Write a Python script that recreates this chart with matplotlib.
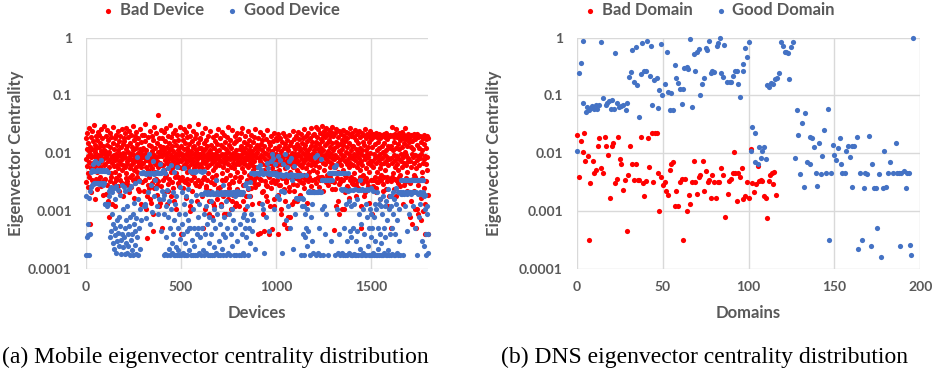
import numpy as np
import matplotlib
matplotlib.use("Agg")
import matplotlib.pyplot as plt
from matplotlib.ticker import FuncFormatter, NullLocator

plt.rcParams['font.family'] = ['Lato', 'DejaVu Sans']
plt.rcParams['font.weight'] = 'bold'

RED = '#FF0000'
BLUE = '#4472C4'
GRAY = '#595959'
GRID = '#D9D9D9'

# ---- (a) mobile devices: values read per 100-device block, in x order ----
bad_000 = [.018, .008, .012, .006, .022, .009, .015, .0045, .011, .027, .007, .0095, .0006, .013, .0055, .019, .0085, .024, .0065, .012, .005, .016, .009, .031, .007, .014, .0105, .006, .02, .0082, .0125, .0048, .017, .0075, .023, .0092, .0035, .013, .0068, .021, .0088, .015, .0058, .011, .026, .0072, .0098, .018, .0052, .0135, .0078, .029, .0062, .0115, .0095]
bad_100 = [.011, .0065, .02, .002, .0085, .014, .0052, .025, .0095, .0072, .017, .0008, .0105, .0058, .022, .0078, .013, .0045, .019, .009, .0068, .0013, .015, .0082, .028, .006, .012, .0092, .0048, .018, .0075, .0035, .021, .0098, .0062, .014, .0085, .024, .0055, .0112, .0072, .0165, .0042, .0095, .02, .0066, .0128, .0088, .0052, .026, .0078, .0145, .0062, .0102, .0185]
bad_200 = [.0095, .016, .0058, .022, .0085, .012, .0045, .027, .0072, .0135, .0065, .019, .0028, .0105, .0078, .024, .0055, .015, .0088, .0062, .021, .0098, .0042, .013, .0075, .029, .0068, .0115, .0052, .017, .0092, .0036, .02, .0082, .0125, .0058, .023, .0072, .0145, .0048, .0102, .0185, .0065, .0088, .0022, .012, .0078, .026, .0058, .0098, .0155, .0068, .0112, .021, .0085]
bad_300 = [.0125, .0068, .021, .0085, .0045, .016, .0095, .032, .0058, .0115, .0075, .0018, .00034, .019, .0088, .0052, .014, .0025, .0072, .024, .0098, .0062, .0135, .0014, .0082, .02, .0055, .0108, .00045, .017, .0078, .0035, .028, .0092, .0065, .0122, .0048, .022, .0085, .0028, .015, .0072, .045, .0105, .0058, .018, .0088, .0012, .0068, .0132, .0095, .025, .0062, .0115, .0005]
bad_400 = [.0088, .018, .0062, .013, .0095, .023, .0052, .0115, .0075, .016, .0042, .0098, .027, .0068, .0128, .0085, .02, .0022, .0105, .0058, .015, .0078, .031, .0065, .0118, .0092, .0048, .019, .0082, .0135, .0055, .022, .0072, .0108, .0015, .0165, .0088, .0062, .025, .0098, .0045, .014, .0078, .0205, .0068, .0112, .0038, .017, .0092, .0058, .0125, .028, .0075, .0102, .0004]
bad_500 = [.0135, .0072, .021, .0095, .0055, .017, .0085, .026, .0062, .0118, .0078, .0032, .015, .0098, .023, .0068, .0125, .0048, .019, .0088, .011, .0058, .029, .0075, .0142, .001, .0092, .02, .0065, .0108, .0082, .016, .0045, .0128, .0072, .024, .0098, .0055, .0135, .0085, .018, .0062, .0115, .0028, .0215, .0078, .0102, .0068, .015, .0092, .032, .0058, .0122, .0085, .0175]
bad_600 = [.0098, .018, .0065, .0125, .0082, .022, .0055, .0005, .0108, .0072, .015, .0038, .0092, .027, .0068, .0118, .0025, .017, .0085, .0058, .0135, .0075, .02, .0045, .0102, .0015, .0088, .0062, .024, .0112, .0078, .0032, .014, .0095, .0008, .0068, .019, .0085, .0052, .0122, .0072, .0012, .0165, .0098, .0058, .021, .0082, .0042, .0108, .0065, .0145, .0022, .0088, .026, .0075]
bad_700 = [.0115, .0062, .0185, .0088, .0012, .0072, .014, .0045, .023, .0098, .0058, .0128, .0018, .0082, .021, .0068, .0035, .0155, .0095, .0009, .0075, .0118, .0052, .019, .0085, .028, .0065, .0105, .0025, .0138, .0078, .0042, .017, .0092, .0058, .0122, .0015, .0088, .025, .0068, .0102, .0032, .0148, .0078, .0055, .02, .0095, .0012, .0112, .0065, .0165, .0085, .0048, .0222, .0072]
bad_800 = [.0092, .0012, .0175, .0065, .0118, .0085, .0038, .022, .0072, .0135, .0055, .0095, .027, .0068, .0108, .0028, .0158, .0082, .0048, .0125, .0075, .0195, .0062, .0102, .0018, .0145, .0088, .0058, .024, .0078, .0115, .0042, .0168, .0095, .0068, .0132, .0025, .0085, .021, .0062, .0108, .0078, .0052, .0155, .0092, .0035, .0188, .0072, .0122, .0058, .026, .0085, .0098, .0045, .0138]
bad_900 = [.0105, .0058, .0185, .0004, .0082, .0125, .0045, .023, .0072, .00042, .0142, .0092, .0035, .0168, .0065, .0115, .0022, .0205, .0085, .0052, .00045, .0132, .0078, .0102, .0028, .0175, .0062, .0095, .0015, .025, .0072, .0118, .0042, .0155, .0088, .0004, .0068, .0138, .0098, .0032, .0195, .0078, .0055, .0108, .00048, .0162, .0085, .0065, .022, .0012, .0092, .0125, .0048, .0182, .0075]
bad_1000 = [.0095, .0168, .0062, .0118, .0004, .0085, .0215, .0052, .0132, .0075, .0028, .0185, .0092, .0065, .0108, .0009, .0155, .0078, .0042, .0228, .0068, .0122, .0006, .0088, .0142, .0055, .0195, .0035, .0098, .0072, .0125, .0005, .0172, .0085, .0062, .0112, .0022, .0205, .0078, .0048, .0138, .0008, .0092, .0158, .0068, .0102, .0038, .0242, .0082, .0058, .0128, .0015, .0178, .0072, .0095]
bad_1100 = [.0118, .0068, .0195, .0085, .0052, .0142, .0015, .0098, .0235, .0072, .0128, .0045, .0175, .0088, .0062, .0112, .0032, .0215, .0078, .0148, .0058, .0102, .0185, .0068, .0125, .0042, .0262, .0092, .0075, .0138, .0055, .0198, .0082, .0108, .0038, .0165, .0095, .0065, .0225, .0078, .0118, .0048, .0182, .0088, .0135, .0062, .0278, .0098, .0072, .0155, .0052, .0205, .0085, .0112, .0068]
bad_1200 = [.0215, .0088, .0135, .0062, .0285, .0098, .0155, .0072, .0192, .0048, .0118, .0265, .0082, .0142, .0058, .0225, .0105, .0075, .0178, .0038, .0125, .0295, .0092, .0162, .0068, .0205, .0112, .0052, .0245, .0085, .0138, .0065, .0188, .0098, .0275, .0078, .0148, .0042, .0218, .0108, .0072, .0168, .0255, .0088, .0128, .0058, .0198, .0095, .0235, .0068, .0152, .0082, .0282, .0112, .0062]
bad_1300 = [.0195, .0078, .0125, .00047, .0228, .0092, .0058, .0158, .0012, .0265, .0085, .0135, .0048, .0188, .0068, .0108, .0245, .0009, .0075, .0145, .0032, .0215, .0098, .0062, .0172, .0082, .0118, .0255, .0052, .0138, .0011, .0202, .0088, .0072, .0162, .0042, .0235, .0105, .0065, .0128, .0185, .0078, .0025, .0222, .0095, .0058, .0152, .0085, .0272, .0068, .0112, .0038, .0195, .0082, .0132]
bad_1400 = [.0225, .0085, .0135, .0062, .0192, .0098, .0045, .0255, .0075, .0118, .0028, .0172, .0088, .0058, .0212, .0105, .0068, .0148, .0035, .0245, .0082, .0125, .0052, .0188, .0095, .0072, .0005, .0228, .0112, .0062, .0158, .0042, .0205, .0088, .0138, .0018, .0262, .0078, .0115, .0055, .0182, .0098, .0032, .0218, .0068, .0128, .0085, .0198, .0048, .0155, .0072, .0238, .0102, .0062, .0175]
bad_1500 = [.0205, .0072, .0009, .0128, .0188, .0058, .0215, .0095, .0035, .0198, .0082, .0142, .0025, .0225, .0068, .0112, .0048, .0192, .0088, .0158, .0032, .0212, .0075, .0122, .0055, .0185, .0098, .0065, .0205, .0042, .0135, .0082, .0195, .0022, .0105, .0218, .0068, .0148, .0052, .0188, .0092, .0072, .0228, .0115, .0038, .0175, .0085, .0202, .0062, .0132, .0018, .0195, .0078, .0125, .0208]
bad_1600 = [.0198, .0082, .0005, .0135, .0282, .0068, .0205, .0112, .0045, .0188, .0092, .0158, .0058, .0215, .0075, .0125, .0035, .0262, .0088, .0192, .0065, .0142, .0208, .0052, .0118, .0225, .0078, .0168, .0042, .0198, .0098, .0072, .0235, .0128, .0058, .0185, .0085, .0212, .0028, .0148, .0068, .0195, .0105, .0275, .0062, .0178, .0092, .0202, .0048, .0135, .0082, .0218, .0072, .0155, .0192]
bad_1700 = [.0185, .0072, .0008, .0128, .0205, .0058, .0165, .0095, .0006, .0198, .0085, .0118, .0042, .0212, .0068, .0011, .0178, .0092, .0055, .0195, .0005, .0138, .0075, .0218, .0088, .0009, .0188, .0062, .0125, .0035, .0202, .0082, .0007, .0158, .0098, .0192, .0048, .0112, .0185, .0068, .001, .0205, .0078, .0145, .0004, .0192, .0088, .0065, .0178, .0122, .0052, .0198, .0085, .0004, .0182]

# lower fringe of the bad-device band (0.001-0.004), same 100-device blocks
bad_low_000 = [.0032, .0026, .0038, .0021, .0035, .0029, .0016, .0036, .0024, .0033, .0039, .0027, .0019, .0034]
bad_low_100 = [.0036, .0028, .0015, .0033, .0039, .0024, .0031, .0012, .0037, .0027, .0022, .0035, .003, .0018]
bad_low_200 = [.0029, .0037, .0033, .0021, .0038, .0026, .0034, .0017, .0031, .0039, .0024, .0035, .0013, .0032]
bad_low_300 = [.0022, .0035, .0011, .0028, .0038, .0016, .0031, .0009, .0025, .0036, .0019, .0033, .0014, .0027]
bad_low_400 = [.0034, .0021, .0038, .0013, .0029, .0036, .0018, .0032, .0025, .0039, .0011, .0031, .0027, .0035]
bad_low_500 = [.0038, .0025, .0033, .0017, .0036, .0029, .0012, .0034, .0022, .0039, .0031, .0015, .0035, .0027]
bad_low_600 = [.0031, .0018, .0036, .0011, .0027, .0034, .0009, .0022, .0038, .0014, .0029, .0035, .0016, .0025]
bad_low_700 = [.0026, .0013, .0034, .0009, .0021, .0037, .0016, .0029, .0011, .0033, .0019, .0038, .0014, .0024]
bad_low_800 = [.0033, .0021, .0038, .0015, .0028, .0011, .0035, .0024, .0018, .0037, .0013, .0031, .0026, .0039]
bad_low_900 = [.0029, .0014, .0036, .0021, .0009, .0033, .0018, .0027, .0038, .0012, .0025, .0035, .0016, .0031]
bad_low_1000 = [.0035, .0019, .0028, .0011, .0037, .0024, .0015, .0032, .0008, .0026, .0039, .0013, .0029, .0022]
bad_low_1100 = [.0037, .0028, .0034, .0019, .0039, .0031, .0025, .0036, .0014, .0033, .0038, .0027, .0035, .0022]
bad_low_1200 = [.0036, .0031, .0039, .0026, .0034, .0038, .0022, .0035, .0032, .0037, .0028, .0039, .0033, .0024]
bad_low_1300 = [.0032, .0024, .0037, .0015, .0029, .0036, .0011, .0034, .0021, .0038, .0027, .0017, .0035, .0031]
bad_low_1400 = [.0029, .0036, .0018, .0033, .0025, .0038, .0012, .0031, .0035, .0021, .0037, .0027, .0014, .0034]
bad_low_1500 = [.0035, .0027, .0039, .0021, .0032, .0037, .0016, .0034, .0029, .0038, .0024, .0033, .0012, .0036]
bad_low_1600 = [.0033, .0038, .0024, .0036, .0018, .0031, .0039, .0027, .0035, .0013, .0032, .0037, .0022, .0034]
bad_low_1700 = [.0031, .0015, .0036, .0022, .0038, .0011, .0028, .0034, .0017, .0037, .0025, .0013, .0033, .0019]

good_000 = [.00017, .0018, .00035, .00017, .0006, .00038, .0017, .00017, .0022, .0004, .0026, .0048, .0028, .0052, .0029, .0065, .003, .0049, .003, .0072, .0031, .005, .003, .0051, .003, .0068, .0031, .005, .0029, .0052, .003, .0049, .0075, .003, .005, .0028, .0051, .003, .0049, .0013]
good_100 = [.0013, .0049, .0013, .0052, .0012, .0013, .0048, .0013, .0022, .0018, .0024, .00035, .0026, .00045, .0009, .0021, .00028, .0006, .0025, .00022, .00038, .0016, .0005, .00019, .0027, .0007, .0003, .00042, .0023, .00025, .0008, .00055, .0019, .00032, .00018, .0028, .0004, .0011, .00024, .0026]
good_200 = [.00035, .0022, .00018, .0005, .00028, .0007, .00019, .0012, .0004, .00025, .0024, .00055, .00017, .0008, .00032, .0027, .00021, .0004, .0009, .00017, .0006, .0014, .00026, .00045, .003, .00018, .00075, .0085, .00035, .0016, .00017, .0005, .0033, .00022, .0011, .0045, .0007, .0046, .0045, .0047]
good_300 = [.0045, .0012, .0045, .0013, .0046, .0012, .0044, .00075, .0045, .0085, .0046, .0021, .0045, .0095, .0044, .0006, .0045, .0028, .0046, .00095, .0045, .0072, .0044, .0018, .0045, .0035, .0046, .0025, .0045, .0012, .0047, .0009, .0045, .0016, .0046, .0065, .0045, .00045, .0046, .0022]
good_400 = [.0048, .0016, .0052, .00017, .0019, .0009, .00018, .0045, .0012, .00035, .0023, .00017, .0055, .0008, .00022, .0015, .0005, .00017, .0062, .0011, .00028, .00019, .0021, .0004, .00017, .0048, .0007, .00017, .0013, .00024, .0018, .00017, .0058, .0005, .00021, .0009, .00017, .0026, .00033, .00018]
good_500 = [.00017, .0006, .0021, .00019, .0004, .0013, .00017, .0055, .00028, .0009, .00017, .0018, .00045, .00017, .0024, .0007, .00021, .0005, .0049, .0005, .00017, .0015, .00032, .0048, .00017, .0011, .0049, .00025, .0005, .0048, .00017, .0019, .0049, .0004, .00017, .0005, .0008, .00019, .0013, .00035]
good_600 = [.0049, .00017, .002, .0005, .0048, .00021, .002, .0009, .005, .00017, .0021, .0004, .0012, .00019, .002, .0006, .00017, .0021, .00028, .0008, .002, .00017, .0015, .0004, .0021, .00017, .0007, .002, .00024, .0011, .00017, .002, .0005, .0035, .00019, .0021, .0009, .00017, .002, .0003]
good_700 = [.002, .00017, .0006, .0021, .0012, .00022, .002, .0004, .0028, .00017, .0021, .0008, .00035, .002, .00017, .0015, .0021, .0005, .00019, .002, .0009, .002, .00017, .0021, .0004, .002, .0011, .00025, .0021, .0007, .002, .00017, .0021, .0018, .0005, .002, .00017, .0022, .0003, .0021]
good_800 = [.002, .00017, .0021, .0006, .002, .00017, .0021, .0004, .002, .00019, .0021, .0008, .0009, .00017, .0005, .0028, .00035, .003, .0007, .0012, .00017, .0025, .0005, .0018, .00028, .0032, .0009, .0045, .00045, .0045, .0046, .0007, .0045, .0045, .0044, .00022, .0045, .0046, .0045, .0045]
good_900 = [.0045, .0046, .0058, .0045, .0044, .0062, .0045, .0046, .0052, .0045, .0013, .0045, .0044, .0011, .0045, .00019, .0046, .0045, .0008, .0045, .0068, .0046, .0045, .0055, .0044, .00045, .0045, .0046, .0072, .0045, .0095, .0044, .0045, .0082, .0046, .0011, .0045, .0065, .0044, .0045]
good_1000 = [.0042, .0018, .0042, .0088, .0041, .0016, .0042, .0075, .0043, .0022, .0042, .00019, .0042, .0022, .0041, .0065, .0042, .0021, .0042, .0095, .0043, .0007, .0042, .0058, .0041, .0012, .0042, .0072, .0042, .0005, .0043, .0082, .0042, .0035, .0041, .00022, .0042, .006, .0042, .0009]
good_1100 = [.0042, .0017, .0041, .0017, .0042, .0016, .0042, .0017, .0041, .0017, .0042, .00017, .0017, .0012, .0042, .0017, .0004, .0016, .00017, .0012, .0009, .00035, .0042, .0005, .0011, .00025, .0021, .00045, .0021, .0022, .00017, .0021, .0008, .0021, .0003, .0021, .0013, .0021, .00019, .0021]
good_1200 = [.0021, .0021, .0085, .0021, .00017, .0021, .0092, .0021, .00019, .0022, .0005, .0021, .00017, .0078, .0021, .0034, .0011, .0034, .00017, .0034, .0012, .0035, .0034, .0004, .0034, .0009, .0035, .0034, .00017, .0034, .0046, .0034, .0045, .0034, .0046, .0003, .0045, .0034, .0046, .0045]
good_1300 = [.0045, .0046, .0058, .0045, .00017, .0046, .0062, .0045, .0011, .0046, .00019, .0045, .0004, .0046, .00017, .0045, .0024, .00019, .0046, .0023, .00017, .0045, .0005, .0024, .00017, .0046, .0013, .0023, .0003, .00017, .0045, .0022, .00019, .0015, .00045, .0023, .00017, .0012, .00035, .00017]
good_1400 = [.00017, .0023, .0005, .00018, .0013, .00017, .0024, .0003, .00017, .0016, .00045, .0023, .00017, .0009, .0023, .00022, .0035, .00017, .0023, .0006, .00017, .0024, .0011, .00019, .0023, .0004, .00017, .0023, .0013, .00017, .0024, .0008, .00025, .0023, .00017, .0005, .0011, .00017, .0009, .00035]
good_1500 = [.0025, .00017, .0005, .0022, .00019, .0008, .00017, .0013, .0003, .00017, .0011, .0021, .00017, .0005, .00022, .0013, .00017, .0004, .0016, .00017, .0012, .00028, .00017, .0009, .0018, .00017, .0005, .00019, .0012, .00035, .00017, .0015, .0007, .00017, .0024, .00021, .0011, .00017, .0004, .0018]
good_1600 = [.0018, .00017, .0012, .0005, .00018, .0021, .0009, .00017, .0016, .0004, .00017, .0013, .0025, .00019, .0007, .0021, .00017, .0011, .0003, .0021, .00017, .002, .0021, .0035, .002, .0034, .00017, .0021, .0035, .002, .0034, .0012, .0021, .0035, .00045, .002, .0034, .0021, .0035, .0009]
good_1700 = [.0035, .0021, .0034, .002, .0035, .0021, .0034, .0012, .0035, .0021, .0034, .0005, .0035, .0021, .0034, .00017, .0035, .002, .0034, .0008, .0035, .0021, .0034, .0013, .0035, .002, .0034, .0003, .0035, .0021, .0018, .00025, .0019, .0011, .0004, .00017, .0012, .0009, .00019, .0004]

bad_device_blocks = [bad_000, bad_100, bad_200, bad_300, bad_400, bad_500, bad_600, bad_700, bad_800,
                     bad_900, bad_1000, bad_1100, bad_1200, bad_1300, bad_1400, bad_1500, bad_1600, bad_1700]
bad_low_blocks = [bad_low_000, bad_low_100, bad_low_200, bad_low_300, bad_low_400, bad_low_500, bad_low_600,
                  bad_low_700, bad_low_800, bad_low_900, bad_low_1000, bad_low_1100, bad_low_1200, bad_low_1300,
                  bad_low_1400, bad_low_1500, bad_low_1600, bad_low_1700]
good_device_blocks = [good_000, good_100, good_200, good_300, good_400, good_500, good_600, good_700, good_800,
                      good_900, good_1000, good_1100, good_1200, good_1300, good_1400, good_1500, good_1600, good_1700]

# ---- (b) DNS domains ----
bad_domain_x = [0, 1.4, 2.5, 3.5, 4, 5, 6.4, 7.4, 8, 9.3, 10.3, 11.3, 12.4, 13.2, 14.2, 15.3, 16.5, 17, 18.2, 19.2,
                20.4, 21.3, 22.3, 23.3, 24.2, 25.2, 26, 27.2, 28.1, 29.5, 30, 31, 32.2, 33.2, 34.5, 35.5, 36.5, 37.4,
                38.4, 39, 40.3, 41.3, 42.3, 43.6, 44.6, 45.6, 46.5, 47.5, 48, 49, 50, 51.2, 52, 53, 54, 55, 56.3, 57.2,
                58, 59.2, 60.3, 61.3, 62, 62.9, 64.2, 65.2, 66, 67.1, 68, 69, 70, 71, 72, 73.3, 74.3, 75, 76.2, 77.2,
                78.2, 79, 80, 81, 82, 83, 84, 85, 86.3, 87.9, 88.8, 89.8, 90.8, 91.4, 92.3, 93.1, 94, 95, 96.2, 97, 98,
                99, 100.5, 101.3, 102, 103.4, 104.4, 105.3, 106, 107, 108, 109.2, 110.2, 110.8, 111.7, 112.7, 113.7,
                114.5, 115, 116]
bad_domain_y = [.0204, .0038, .016, .0103, .022, .0072, .0091, .00032, .0031, .0074, .0046, .0051, .0134, .0185, .0056,
                .0045, .019, .0134, .0093, .0017, .0134, .015, .0031, .0036, .019, .0079, .0066, .0023, .0034, .00045,
                .0042, .0134, .0066, .0034, .0066, .0035, .0034, .019, .0031, .0018, .0033, .018, .0058, .0225, .0032,
                .0225, .0225, .0045, .00098, .0039, .0028, .0032, .0022, .0019, .0051, .0066, .0071, .0012, .0022,
                .0012, .0032, .0036, .00032, .0036, .00098, .0019, .0013, .0032, .0072, .0032, .002, .0039, .0042,
                .0072, .0022, .005, .0032, .0034, .0017, .0042, .0032, .0017, .0032, .0032, .0055, .0042, .00078,
                .002, .0033, .0036, .0045, .0104, .0045, .0015, .0045, .0038, .0055, .0016, .0018, .0032, .0017,
                .0118, .0031, .0021, .0029, .0061, .0033, .0034, .0033, .0018, .0017, .00074, .0033, .0042, .0045,
                .0029, .0047, .0019]

good_domain_x = [0, 1.3, 2.3, 3.8, 3.9, 5.2, 6.2, 7.1, 8.1, 9.1, 10, 11, 12, 12.9, 14.3, 15.5, 16.8, 17.8, 18.8, 19.7,
                 20.7, 21.7, 22, 23.2, 24.6, 25.6, 27.1, 28.5, 29.4, 30.4, 31.4, 32.3, 33.3, 34.3, 35.2, 36.2, 37.2,
                 38.2, 39.1, 40.1, 41, 42.6, 43.4, 44, 45, 46.5, 47.3, 47.8, 48.8, 49.8, 51.5, 52.5, 53, 54, 55, 56,
                 57, 58, 59, 60, 61, 62, 62.5, 64, 65, 66, 67, 68, 69, 70, 71, 72, 73, 74, 75, 76, 77, 78, 79, 80,
                 81.5, 82.5, 83.5, 84, 85, 86, 87.5, 89, 90, 91, 92, 93, 94, 95, 96.5, 97, 98, 99, 100, 101.5, 102,
                 103.5, 104, 105.3, 106, 107, 108, 109, 110, 111, 112, 113, 114, 115.5, 116.5, 118, 119, 120, 121,
                 122, 123, 123.3, 125, 126, 127, 128, 129, 130, 131, 132.5, 133, 134, 135.5, 136, 137, 138, 139, 140,
                 141, 142, 143, 144, 145, 146, 147, 148, 149, 150, 151, 152, 153, 154, 154.5, 156, 157, 158, 159, 160,
                 160.5, 161.5, 163, 164, 164.7, 166, 167.2, 168, 168.7, 170, 171, 172, 173, 174, 175, 176, 177, 178,
                 179, 180, 181, 182.5, 184, 186, 186.2, 187.5, 188, 189, 190.5, 191.5, 192.5, 193.5, 194, 194.7, 196]
good_domain_y = [.011, .24, .36, .89, .073, .052, .064, .056, .06, .066, .058, .068, .058, .068, .85, .089, .068, .075,
                 .081, .058, .083, .058, .54, .075, .064, .066, .068, .056, .075, .21, .25, .61, .17, .68, .15, .043,
                 .235, .8, .26, .26, .87, .22, .72, .068, .185, .2, .06, .125, .78, .1, .16, .57, .115, .057, .11,
                 .057, .33, .2, .165, .13, .07, .127, .3, .31, .29, .95, .064, .52, .27, .57, .64, .1, .16, .2, .67,
                 .6, .88, .24, .27, .25, .72, .8, 1.0, .24, .21, .74, .17, .17, .17, .22, .26, .26, .16, .093, .26,
                 .35, .65, .46, .85, .011, .028, .007, .022, .0066, .0127, .0084, .011, .0127, .008, .15, .14, .165,
                 .155, .19, .2, .24, .85, .73, .57, .57, .54, .19, .7, .85, .0084, .055, .021, .0044, .033, .0026,
                 .049, .007, .0064, .019, .018, .013, .0046, .0027, .0153, .0043, .0091, .025, .0045, .059, .00032,
                 .0046, .014, .0093, .0077, .0124, .018, .0066, .0045, .0045, .011, .0133, .0087, .0026, .0133, .0133,
                 .019, .00022, .0046, .00032, .0025, .0046, .0043, .02, .00025, .0066, .0025, .0025, .00051, .0043,
                 .00016, .0025, .011, .0026, .0045, .007, .0045, .0152, .0045, .0045, .00025, .0046, .005, .0025,
                 .0046, .0045, .00026, .00017, 1.0]


def spread(blocks, width=100):
    # place each block's values evenly across its 100-device span
    xs, ys = [], []
    for k, block in enumerate(blocks):
        n = len(block)
        xs.extend(k * width + (np.arange(n) + 0.5) * width / n)
        ys.extend(block)
    return np.array(xs), np.array(ys)


def style(ax, xmax, xticks):
    ax.set_yscale('log')
    ax.set_ylim(1e-4, 1)
    ax.set_xlim(0, xmax)
    ax.set_xticks(xticks)
    ax.set_yticks([1e-4, 1e-3, 1e-2, 1e-1, 1])
    ax.yaxis.set_minor_locator(NullLocator())
    ax.yaxis.set_major_formatter(FuncFormatter(lambda v, p: f'{v:g}'))
    ax.tick_params(axis='both', length=0, labelsize=10, labelcolor=GRAY)
    ax.tick_params(axis='x', pad=9)
    ax.tick_params(axis='y', pad=10)
    ax.grid(True, color=GRID, lw=1)
    ax.set_axisbelow(True)
    for s in ax.spines.values():
        s.set_visible(False)


fig = plt.figure(figsize=(9.32, 3.72), dpi=100)
ax1 = fig.add_axes([0.092, 0.2777, 0.3676, 0.621])
ax2 = fig.add_axes([0.6188, 0.2777, 0.3687, 0.621])

bx, by = spread(bad_device_blocks)
lx_, ly_ = spread(bad_low_blocks)
gx, gy = spread(good_device_blocks)
bx = np.concatenate([bx, lx_])
by = np.concatenate([by, ly_])
h1 = ax1.scatter(bx, by, s=14, c=RED, linewidths=0, zorder=3, clip_on=False, label='Bad Device')
h2 = ax1.scatter(gx, gy, s=14, c=BLUE, linewidths=0, zorder=4, clip_on=False, label='Good Device')
style(ax1, 1800, [0, 500, 1000, 1500])

h3 = ax2.scatter(bad_domain_x, bad_domain_y, s=14, c=RED, linewidths=0, zorder=3, clip_on=False, label='Bad Domain')
h4 = ax2.scatter(good_domain_x, good_domain_y, s=14, c=BLUE, linewidths=0, zorder=4, clip_on=False, label='Good Domain')
style(ax2, 200, [0, 50, 100, 150, 200])

for ax, xl, lx in [(ax1, 'Devices', -0.2034), (ax2, 'Domains', -0.2416)]:
    ax.text(0.5, -0.19, xl, transform=ax.transAxes, ha='center', va='center', fontsize=12, color=GRAY)
    ax.text(lx, 0.5, 'Eigenvector Centrality', transform=ax.transAxes, ha='center', va='center',
            rotation=90, fontsize=12, color=GRAY)

for handles, cx in [([h1, h2], 0.2377), ([h3, h4], 0.7618)]:
    fig.legend(handles=handles, loc='center', bbox_to_anchor=(cx, 0.973), ncol=2, frameon=False,
               fontsize=12, labelcolor=GRAY, handlelength=0.6, handletextpad=0.4, columnspacing=1.4)

fig.text(0.231, 0.04, '(a) Mobile eigenvector centrality distribution', ha='center', va='center',
         family='Liberation Serif', fontweight='normal', fontsize=17, color='black')
fig.text(0.756, 0.04, '(b) DNS eigenvector centrality distribution', ha='center', va='center',
         family='Liberation Serif', fontweight='normal', fontsize=17, color='black')

fig.savefig('out.png', dpi=100)
